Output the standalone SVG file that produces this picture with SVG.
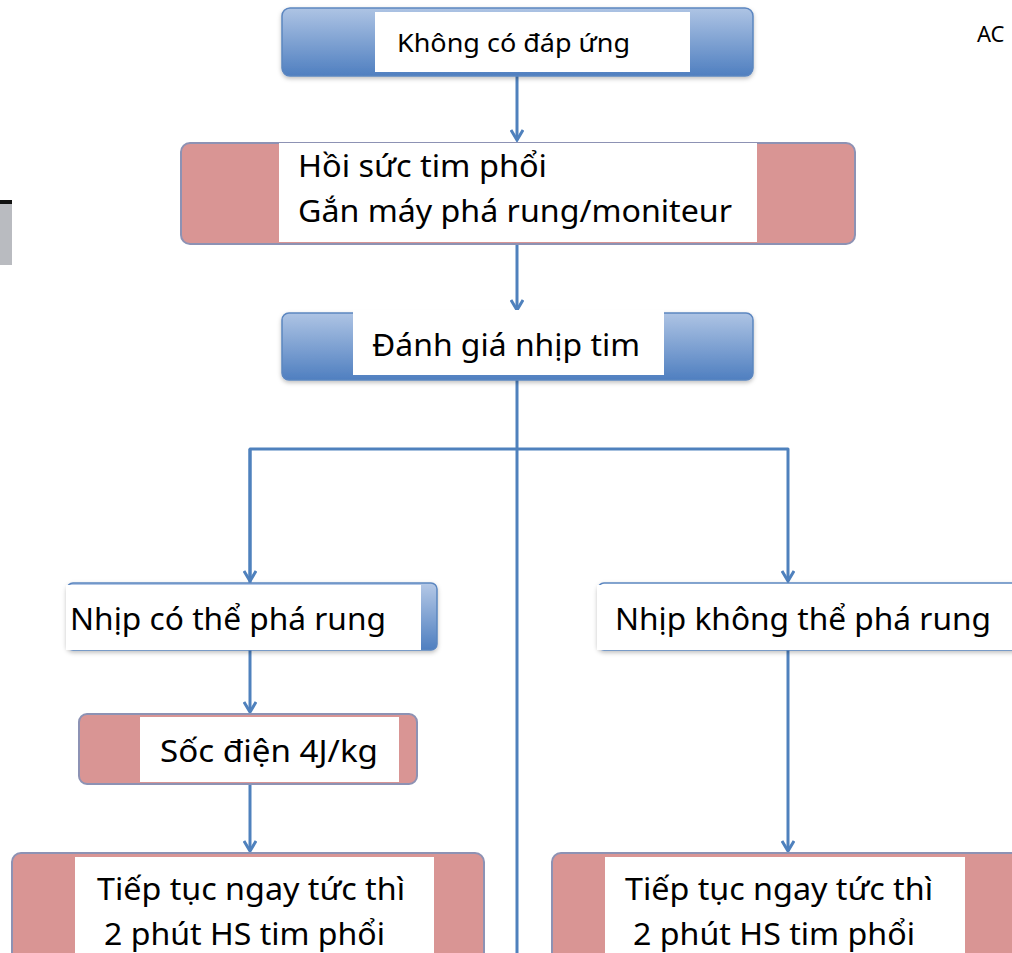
<svg xmlns="http://www.w3.org/2000/svg" width="1012" height="953" viewBox="0 0 1012 953">
<defs>
<linearGradient id="blueG" x1="0" y1="0" x2="0" y2="1">
<stop offset="0" stop-color="#aec4e4"/>
<stop offset="1" stop-color="#4f7fc0"/>
</linearGradient>
<linearGradient id="blueH" x1="0" y1="0" x2="0" y2="1">
<stop offset="0" stop-color="#b4c8e6"/>
<stop offset="1" stop-color="#4f7fc0"/>
</linearGradient>
<marker id="arr" viewBox="0 0 14 14" refX="11" refY="7" markerWidth="14" markerHeight="14" markerUnits="userSpaceOnUse" orient="auto">
<path d="M1,1 L11,7 L1,13" fill="none" stroke="#4f81bd" stroke-width="3"/>
</marker>
<filter id="sh" x="-5%" y="-10%" width="110%" height="130%">
<feDropShadow dx="0" dy="2" stdDeviation="2" flood-color="#000" flood-opacity="0.25"/>
</filter>
</defs>
<style>
.t{font-family:"Noto Sans","Open Sans","Liberation Sans",sans-serif;fill:#000}
.c{fill:none;stroke:#4f81bd;stroke-width:3}
.blue{fill:url(#blueG);stroke:#5b86c0;stroke-width:1.5}
.pink{fill:#d99594;stroke:#8d92b4;stroke-width:2}
.w{fill:#fff}
</style>
<rect width="1012" height="953" fill="#fff"/>
<g id="strip">
<rect x="0" y="202" width="12" height="63" fill="#b9bbc0"/>
<rect x="0" y="200" width="12" height="4" fill="#111"/>
</g>
<g id="connectors">
<line class="c" x1="517" y1="76" x2="517" y2="140" marker-end="url(#arr)"/>
<line class="c" x1="517" y1="244" x2="517" y2="310" marker-end="url(#arr)"/>
<line class="c" x1="517" y1="380" x2="517" y2="953"/>
<polyline class="c" points="250,583 250,449 788,449 788,581" stroke-linejoin="round" marker-end="url(#arr)"/>
<line class="c" x1="250" y1="449" x2="250" y2="581" marker-end="url(#arr)"/>
<line class="c" x1="250" y1="650" x2="250" y2="712" marker-end="url(#arr)"/>
<line class="c" x1="250" y1="784" x2="250" y2="851" marker-end="url(#arr)"/>
<line class="c" x1="788" y1="650" x2="788" y2="851" marker-end="url(#arr)"/>
</g>
<g id="n1">
<rect class="blue" x="282" y="8" width="471" height="68" rx="8" filter="url(#sh)"/>
<rect class="w" x="375" y="12" width="315" height="60"/>
<text class="t" x="397" y="52" font-size="26" textLength="233" lengthAdjust="spacingAndGlyphs">Không có đáp ứng</text>
</g>
<g id="n2">
<rect class="pink" x="181" y="143" width="674" height="101" rx="9"/>
<rect class="w" x="279" y="143" width="478" height="99"/>
<text class="t" x="298" y="177" font-size="30" textLength="249" lengthAdjust="spacingAndGlyphs">Hồi sức tim phổi</text>
<text class="t" x="298" y="222" font-size="30" textLength="434" lengthAdjust="spacingAndGlyphs">Gắn máy phá rung/moniteur</text>
</g>
<g id="n3">
<rect class="blue" x="282" y="313" width="471" height="67" rx="7" filter="url(#sh)"/>
<rect class="w" x="353" y="310" width="311" height="65"/>
<text class="t" x="372" y="356" font-size="30" textLength="268" lengthAdjust="spacingAndGlyphs">Đánh giá nhịp tim</text>
</g>
<g id="n4">
<rect x="67" y="583" width="370" height="67" rx="6" fill="url(#blueH)" stroke="#5b86c0" stroke-width="1.5" filter="url(#sh)"/>
<rect class="w" x="66" y="585" width="355" height="65"/>
<text class="t" x="70" y="630" font-size="30" textLength="316" lengthAdjust="spacingAndGlyphs">Nhịp có thể phá rung</text>
</g>
<g id="n5">
<rect x="598" y="583" width="430" height="67" rx="6" fill="#fff" stroke="#5b86c0" stroke-width="1.5" filter="url(#sh)"/>
<rect class="w" x="597" y="585" width="415" height="65"/>
<text class="t" x="615" y="630" font-size="30" textLength="376" lengthAdjust="spacingAndGlyphs">Nhịp không thể phá rung</text>
</g>
<g id="n6">
<rect class="pink" x="79" y="714" width="338" height="70" rx="8"/>
<rect class="w" x="140" y="717" width="259" height="65"/>
<text class="t" x="160" y="762" font-size="30" textLength="218" lengthAdjust="spacingAndGlyphs">Sốc điện 4J/kg</text>
</g>
<g id="n7">
<rect class="pink" x="12" y="853" width="472" height="110" rx="9"/>
<rect class="w" x="75" y="857" width="359" height="96"/>
<text class="t" x="97" y="900" font-size="30" textLength="308" lengthAdjust="spacingAndGlyphs">Tiếp tục ngay tức thì</text>
<text class="t" x="104" y="945" font-size="30" textLength="281" lengthAdjust="spacingAndGlyphs">2 phút HS tim phổi</text>
</g>
<g id="n8">
<rect class="pink" x="552" y="853" width="480" height="110" rx="9"/>
<rect class="w" x="605" y="857" width="360" height="96"/>
<text class="t" x="625" y="900" font-size="30" textLength="308" lengthAdjust="spacingAndGlyphs">Tiếp tục ngay tức thì</text>
<text class="t" x="633" y="945" font-size="30" textLength="282" lengthAdjust="spacingAndGlyphs">2 phút HS tim phổi</text>
</g>
<g id="ac">
<text class="t" x="977" y="42" font-size="22">AC</text>
</g>
</svg>
